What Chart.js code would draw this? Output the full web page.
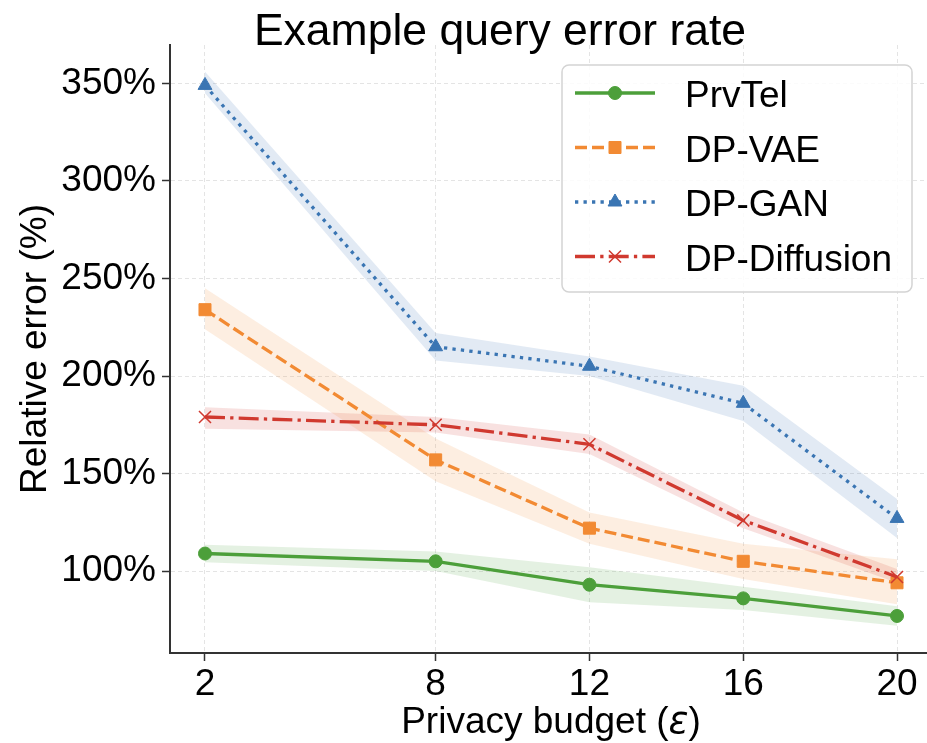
<!DOCTYPE html>
<html>
<head>
<meta charset="utf-8">
<script src="https://cdn.jsdelivr.net/npm/chart.js@4.4.0/dist/chart.umd.min.js"></script>
<style>
  html, body { margin: 0; padding: 0; background: #fff; }
</style>
</head>
<body>
<canvas id="lineChart" width="927" height="743"></canvas>
<script>
// privacy budgets on the x axis
const epsilon = [2, 8, 12, 16, 20];
const yTicks = [100, 150, 200, 250, 300, 350];

// mean relative error (%) and the shaded band around it
const prvTel   = [109, 105, 93, 86, 77];
const prvTelLo = [104.5, 100, 84, 80, 72];
const prvTelHi = [113.5, 110, 102, 92, 82];

const dpVae   = [234, 157, 122, 105, 94];
const dpVaeLo = [224, 146, 114, 96, 83];
const dpVaeHi = [245, 168, 130, 114, 106];

const dpGan   = [349, 215, 205, 186, 127];
const dpGanLo = [345, 208, 200, 177, 117];
const dpGanHi = [356, 222, 210, 195, 137];

const dpDiff   = [179, 175, 165, 126, 97];
const dpDiffLo = [173, 171, 160, 122, 94];
const dpDiffHi = [184, 179, 170, 130, 101];

const FONT = '"Liberation Sans", Arial, sans-serif';

const series = [
  { label: 'PrvTel', mean: prvTel, lo: prvTelLo, hi: prvTelHi,
    color: '#4c9f3a', band: 'rgba(76, 159, 58, 0.15)', dash: [],
    point: 'circle', radius: 6.5, pBorder: 1 },
  { label: 'DP-VAE', mean: dpVae, lo: dpVaeLo, hi: dpVaeHi,
    color: '#f28a33', band: 'rgba(242, 138, 51, 0.15)', dash: [12, 5],
    point: 'rect', radius: 8.5, pBorder: 1 },
  { label: 'DP-GAN', mean: dpGan, lo: dpGanLo, hi: dpGanHi,
    color: '#3a75b3', band: 'rgba(58, 117, 179, 0.15)', dash: [3.3, 5.2],
    point: 'triangle', radius: 8, pBorder: 1 },
  { label: 'DP-Diffusion', mean: dpDiff, lo: dpDiffLo, hi: dpDiffHi,
    color: '#d0392f', band: 'rgba(208, 57, 47, 0.15)', dash: [20, 5.2, 3.3, 5.2],
    point: 'crossRot', radius: 8.5, pBorder: 1.5 }
];

const pts = arr => epsilon.map((e, i) => ({ x: e, y: arr[i] }));

const datasets = [];
series.forEach((s, k) => {
  // lower edge of band (invisible)
  datasets.push({
    label: s.label + ' lo', data: pts(s.lo), borderWidth: 0, pointRadius: 0,
    fill: false, order: 20 + k
  });
  // upper edge, filled down to the lower edge
  datasets.push({
    label: s.label + ' hi', data: pts(s.hi), borderWidth: 0, pointRadius: 0,
    fill: '-1', backgroundColor: s.band, order: 20 + k
  });
});
series.forEach((s, k) => {
  datasets.push({
    label: s.label, data: pts(s.mean),
    borderColor: s.color, backgroundColor: s.color, borderWidth: 3.3,
    borderDash: s.dash, fill: false, tension: 0,
    pointStyle: s.point, pointRadius: s.radius, pointBorderWidth: s.pBorder,
    pointBackgroundColor: s.color, pointBorderColor: s.color,
    order: 3 - k
  });
});

// title, axis titles and legend box
const decor = {
  id: 'decor',
  afterDraw(chart) {
    const ctx = chart.ctx;
    const area = chart.chartArea;
    ctx.save();
    ctx.fillStyle = '#000';

    ctx.font = '44.5px ' + FONT;
    ctx.textAlign = 'center';
    ctx.textBaseline = 'alphabetic';
    ctx.fillText('Example query error rate', 500, 45);

    // x title with italic epsilon
    ctx.font = '37px ' + FONT;
    const a = 'Privacy budget (', c = ')';
    const wa = ctx.measureText(a).width, wc = ctx.measureText(c).width;
    ctx.font = 'italic 37px "DejaVu Sans", ' + FONT;
    const wb = ctx.measureText('ε').width;
    let x0 = 551 - (wa + wb + wc) / 2;
    ctx.textAlign = 'left';
    ctx.font = '37px ' + FONT;
    ctx.fillText(a, x0, 733);
    ctx.font = 'italic 37px "DejaVu Sans", ' + FONT;
    ctx.fillText('ε', x0 + wa, 733);
    ctx.font = '37px ' + FONT;
    ctx.fillText(c, x0 + wa + wb, 733);

    // y title
    ctx.save();
    ctx.translate(46, (area.top + area.bottom) / 2);
    ctx.rotate(-Math.PI / 2);
    ctx.textAlign = 'center';
    ctx.fillText('Relative error (%)', 0, 0);
    ctx.restore();

    // legend
    ctx.beginPath();
    ctx.roundRect(562, 65, 350, 227, 7);
    ctx.fillStyle = 'rgba(255,255,255,0.85)';
    ctx.fill();
    ctx.lineWidth = 1.5;
    ctx.strokeStyle = '#d4d4d4';
    ctx.stroke();

    series.forEach((s, k) => {
      const y = 93 + k * 54.5;
      ctx.save();
      ctx.strokeStyle = s.color;
      ctx.lineWidth = 3.3;
      ctx.setLineDash(s.dash);
      ctx.beginPath();
      ctx.moveTo(575, y);
      ctx.lineTo(655, y);
      ctx.stroke();
      ctx.setLineDash([]);
      ctx.fillStyle = s.color;
      ctx.lineWidth = s.pBorder;
      Chart.helpers.drawPoint(ctx, {
        pointStyle: s.point, radius: s.radius, rotation: 0, borderWidth: s.pBorder
      }, 615, y);
      ctx.restore();
      ctx.fillStyle = '#000';
      ctx.font = '37px ' + FONT;
      ctx.textAlign = 'left';
      ctx.fillText(s.label, 685, y + 14);
    });
    ctx.restore();
  }
};

const config = {
  type: 'line',
  data: { datasets: datasets },
  options: {
    responsive: false,
    animation: false,
    layout: { autoPadding: false, padding: { top: 45, left: 0, right: 0, bottom: 0 } },
    plugins: {
      legend: { display: false },
      tooltip: { enabled: false },
      title: { display: false }
    },
    scales: {
      x: {
        type: 'linear', min: 1.09, max: 20.78,
        afterBuildTicks: sc => { sc.ticks = epsilon.map(v => ({ value: v })); },
        afterFit: sc => { sc.height = 90; sc.paddingLeft = 0; sc.paddingRight = 0; },
        ticks: { font: { family: FONT, size: 37 }, color: '#000', padding: 2 },
        grid: { color: '#e4e4e4', lineWidth: 1, tickLength: 8,
                tickColor: '#333', tickWidth: 1.5, tickBorderDash: [] },
        border: { color: '#333', width: 2, dash: [4, 3] }
      },
      y: {
        min: 58, max: 369.7,
        afterBuildTicks: sc => { sc.ticks = yTicks.map(v => ({ value: v })); },
        afterFit: sc => { sc.width = 170; sc.paddingTop = 0; sc.paddingBottom = 0; },
        ticks: { font: { family: FONT, size: 37 }, color: '#000', padding: 6,
                 callback: v => v + '%' },
        grid: { color: '#e4e4e4', lineWidth: 1, tickLength: 8,
                tickColor: '#333', tickWidth: 1.5, tickBorderDash: [] },
        border: { color: '#333', width: 2, dash: [4, 3] }
      }
    }
  },
  plugins: [decor]
};

var lineChart = new Chart(document.getElementById('lineChart'), config);
</script>
</body>
</html>
